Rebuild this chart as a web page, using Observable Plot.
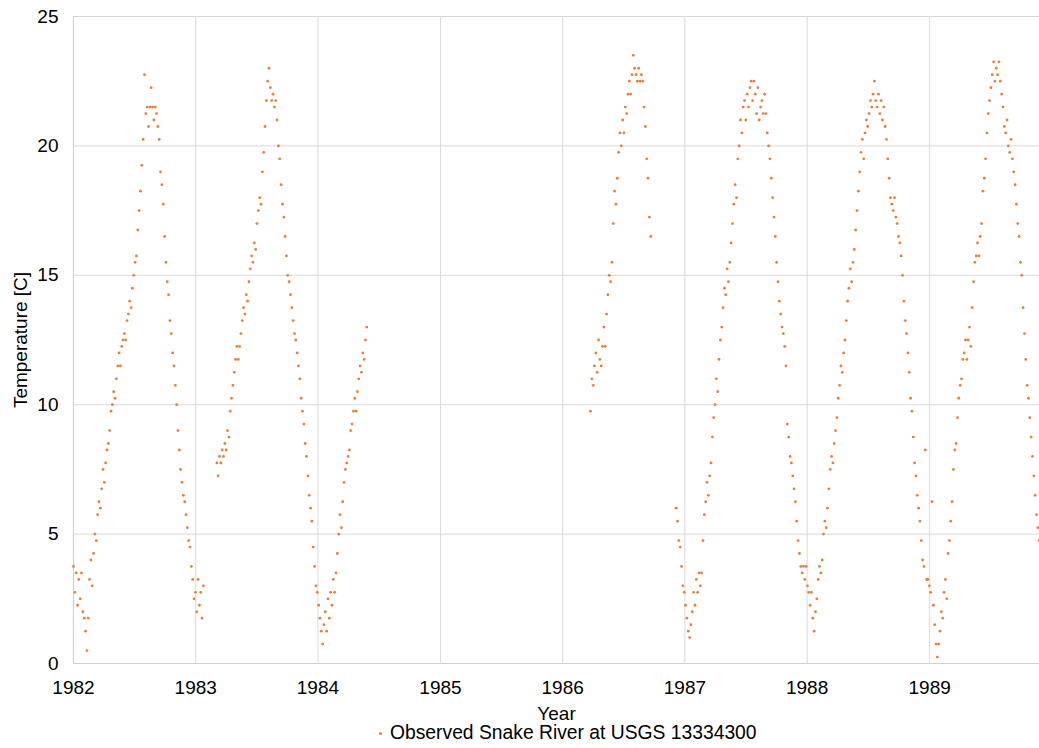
<!DOCTYPE html>
<html>
<head>
<meta charset="utf-8">
<script src="https://cdn.jsdelivr.net/npm/d3@7"></script>
<script src="https://cdn.jsdelivr.net/npm/@observablehq/plot@0.6"></script>
<style>
  html, body { margin: 0; padding: 0; background: #fff; }
  #wrap { position: relative; width: 1039px; height: 748px; font-family: "Liberation Sans", Arial, sans-serif; }
  #legend { position: absolute; left: 0; top: 720px; width: 1039px; height: 26px; font-size: 19.3px; color: #000; }
  #legend .mk { position: absolute; left: 379px; top: 12px; width: 3px; height: 3px; border-radius: 50%; background: #ED7D31; }
  #legend .tx { position: absolute; left: 390px; top: 2px; white-space: nowrap; line-height: 22px; }
</style>
</head>
<body>
<div id="wrap"><div id="chart"></div><div id="legend"><span class="mk"></span><span class="tx">Observed Snake River at USGS 13334300</span></div></div>
<script>
const stepDays = 4;
const seg1Start = "1982-01-01";
const seg1Values = [
  3.75, 2.75, 3.5, 2.25, 3.25, 2.5, 3.5, 2.0, 1.75, 1.25,
  0.5, 1.75, 3.25, 4.0, 3.0, 4.25, 5.0, 4.75, 5.75, 6.25,
  6.0, 6.75, 7.5, 7.0, 7.75, 8.25, 8.5, 9.0, 9.75, 10.0,
  10.5, 10.25, 11.0, 11.5, 12.0, 11.5, 12.25, 12.5, 12.75, 12.5,
  13.25, 13.5, 14.0, 13.75, 14.5, 15.0, 15.5, 15.75, 16.75, 17.5,
  18.25, 19.25, 20.25, 22.75, 21.25, 21.5, 20.75, 21.5, 22.25, 21.5,
  21.0, 21.5, 21.25, 20.75, 20.25, 19.0, 18.5, 17.75, 16.5, 15.5,
  14.75, 14.25, 13.25, 12.75, 12.0, 11.5, 10.75, 10.0, 9.0, 8.25,
  7.5, 7.0, 6.5, 6.25, 5.75, 5.25, 4.75, 4.5, 3.75, 3.25,
  2.5, 2.75, 2.0, 3.25, 2.25, 2.75, 1.75, 3.0, null, null,
  null, null, null, null, null, null, null, 7.75, 7.25, 8.0,
  7.75, 8.25, 8.0, 8.5, 8.25, 9.0, 8.75, 9.75, 10.25, 10.75,
  11.25, 11.75, 12.25, 11.75, 12.25, 12.75, 13.25, 13.75, 13.5, 14.25,
  14.0, 14.75, 15.25, 15.75, 15.5, 16.25, 16.0, 17.0, 17.5, 18.0,
  17.75, 19.0, 19.75, 20.75, 21.75, 22.5, 23.0, 22.25, 21.75, 22.0,
  21.5, 21.75, 21.0, 20.0, 19.5, 18.5, 17.75, 17.25, 16.5, 15.75,
  15.0, 14.75, 14.25, 13.75, 13.25, 12.75, 12.5, 12.0, 11.5, 11.0,
  10.25, 9.75, 9.25, 8.5, 8.0, 7.25, 6.5, 6.0, 5.5, 4.5,
  3.75, 3.0, 2.75, 2.25, 1.75, 1.25, 0.75, 1.5, 2.0, 1.25,
  2.5, 1.75, 2.75, 2.25, 3.25, 2.75, 3.5, 4.25, 5.0, 5.75,
  5.25, 6.25, 7.0, 7.5, 7.75, 8.0, 8.25, 9.0, 9.25, 9.75,
  10.25, 9.75, 10.5, 11.0, 11.5, 11.25, 12.0, 11.75, 12.5, 13.0
];
const seg2Start = "1986-03-25";
const seg2Values = [
  9.75, 11.0, 10.75, 11.5, 12.0, 11.25, 12.5, 11.75, 11.5, 12.25,
  13.0, 12.25, 13.5, 14.25, 15.0, 14.75, 15.5, 17.0, 18.25, 17.75,
  18.75, 19.75, 20.5, 20.0, 21.0, 20.5, 21.5, 21.25, 22.0, 22.5,
  22.0, 22.75, 23.5, 23.0, 22.75, 22.5, 23.0, 22.5, 22.75, 22.5,
  21.5, 20.75, 19.5, 18.75, 17.25, 16.5
];
const seg3Start = "1986-12-06";
const seg3Values = [
  6.0, 5.5, 4.75, 4.5, 3.75, 3.0, 2.75, 2.25, 1.75, 1.25,
  1.0, 1.5, 2.0, 2.75, 2.25, 3.25, 2.75, 3.5, 3.0, 3.5,
  4.75, 5.75, 6.25, 7.0, 6.5, 7.25, 7.75, 8.75, 9.5, 10.0,
  11.0, 10.5, 11.75, 12.5, 13.0, 13.75, 14.5, 14.25, 15.25, 14.75,
  15.5, 16.25, 17.0, 17.75, 18.5, 18.0, 19.5, 20.0, 21.0, 20.5,
  21.5, 21.75, 21.0, 22.0, 21.5, 22.25, 22.5, 21.75, 22.5, 22.0,
  21.25, 22.25, 21.0, 21.5, 21.75, 21.25, 22.0, 21.25, 20.5, 20.0,
  19.5, 18.75, 18.0, 17.25, 16.5, 15.5, 14.75, 14.0, 13.5, 13.0,
  12.75, 12.25, 11.5, 9.25, 8.75, 8.0, 7.75, 7.25, 6.75, 6.25,
  5.5, 4.75, 4.25, 3.75, 3.5, 3.75, 3.25, 3.75, 3.0, 2.75,
  2.25, 2.75, 1.75, 1.25, 2.0, 2.5, 3.25, 3.75, 3.5, 4.0,
  5.0, 5.5, 5.25, 6.0, 6.75, 7.5, 8.0, 7.75, 8.5, 9.0,
  9.5, 10.25, 10.75, 11.5, 11.25, 12.0, 12.5, 13.25, 14.0, 14.5,
  15.25, 14.75, 15.5, 16.0, 16.75, 17.5, 18.25, 19.0, 19.75, 20.25,
  19.5, 20.5, 21.0, 20.75, 21.25, 21.75, 21.5, 22.0, 22.5, 21.75,
  21.5, 22.0, 21.25, 21.75, 21.0, 21.5, 20.75, 20.25, 19.5, 18.75,
  18.0, 17.75, 17.5, 18.0, 17.25, 17.0, 16.5, 16.25, 15.75, 15.0,
  14.0, 13.25, 12.75, 12.0, 11.25, 10.25, 9.75, 8.75, 7.75, 7.25,
  6.5, 6.0, 5.5, 4.75, 4.0, 3.75, 8.25, 3.25, 3.25, 3.0,
  2.75, 6.25, 2.25, 1.5, 0.75, 0.25, 0.75, 1.25, 2.0, 1.75,
  2.75, 3.25, 2.5, 4.25, 4.75, 5.5, 6.25, 7.5, 8.25, 8.5,
  9.5, 10.25, 10.75, 11.0, 11.75, 12.0, 12.5, 11.75, 12.5, 13.0,
  12.25, 13.75, 14.75, 15.5, 15.75, 16.25, 15.75, 16.5, 17.0, 18.25,
  18.75, 19.5, 20.5, 21.25, 21.75, 22.25, 22.75, 23.25, 22.5, 23.0,
  22.75, 23.25, 22.5, 22.0, 21.5, 20.75, 20.5, 21.0, 20.0, 19.75,
  20.25, 19.5, 19.0, 18.5, 17.75, 17.0, 16.5, 15.5, 15.0, 13.75,
  12.75, 11.75, 10.75, 10.25, 9.5, 8.75, 8.0, 7.25, 6.5, 5.75,
  5.25, 4.75
];
const yearTicks = [1982, 1983, 1984, 1985, 1986, 1987, 1988, 1989];
const tempTicks = [0, 5, 10, 15, 20, 25];
const xStart = "1982-01-01";
const xEnd = "1989-11-25";

function build(start, values) {
  const s = new Date(start + "T00:00:00Z");
  return values.map((v, i) => ({ date: d3.utcDay.offset(s, i * stepDays), temp: v }));
}
const data = [
  ...build(seg1Start, seg1Values),
  ...build(seg2Start, seg2Values),
  ...build(seg3Start, seg3Values)
];
const yearDates = yearTicks.map(y => new Date(Date.UTC(y, 0, 1)));
const x0 = new Date(xStart + "T00:00:00Z");
const x1 = new Date(xEnd + "T00:00:00Z");

const chart = Plot.plot({
  width: 1039,
  height: 720,
  marginLeft: 73,
  marginRight: 0,
  marginTop: 16,
  marginBottom: 57,
  style: { fontFamily: "'Liberation Sans', Arial, sans-serif", fontSize: "19px", color: "#000", background: "#fff", overflow: "visible" },
  x: { type: "utc", domain: [x0, x1] },
  y: { domain: [0, 25] },
  marks: [
    Plot.gridY(tempTicks, { stroke: "#d9d9d9", strokeOpacity: 1 }),
    Plot.gridX(yearDates, { stroke: "#d9d9d9", strokeOpacity: 1 }),
    Plot.ruleX([x0], { stroke: "#d0d0d0", strokeWidth: 1.2 }),
    Plot.ruleY([0], { stroke: "#d0d0d0", strokeWidth: 1.2 }),
    Plot.axisY(tempTicks, { tickSize: 0, tickPadding: 15, label: "Temperature [C]", labelAnchor: "center", labelArrow: "none", labelOffset: 60, fontSize: 19 }),
    Plot.axisX(yearDates, { tickSize: 0, tickPadding: 17, tickFormat: d3.utcFormat("%Y"), label: "Year", labelAnchor: "center", labelArrow: "none", labelOffset: 56, fontSize: 19 }),
    Plot.dot(data, { x: "date", y: "temp", r: 1.4, fill: "#ED7D31", stroke: null })
  ]
});
document.getElementById("chart").appendChild(chart);
</script>
</body>
</html>
